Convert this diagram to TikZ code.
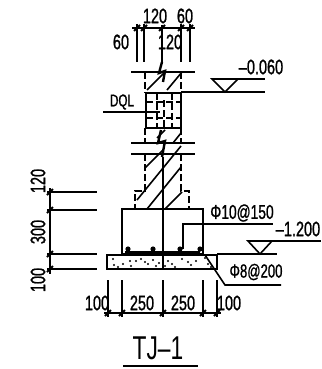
\documentclass[tikz,border=0pt]{standalone}
\usepackage{fontspec}
\newfontfamily\cadfont[FakeStretch=.69,FakeBold=1]{Liberation Sans}
\newfontfamily\titlefont[FakeStretch=.69]{Liberation Sans}
\begin{document}
\begin{tikzpicture}[x=1pt,y=-1pt,line width=1.6pt,
   cadlabel/.style={font=\cadfont\fontsize{21}{21}\selectfont,inner sep=0pt},
   smalllabel/.style={font=\cadfont\fontsize{21}{21}\selectfont,inner sep=0pt},
   dashline/.style={dash pattern=on 7pt off 3pt,line width=1.9pt},
   tickmark/.style={line width=1.8pt}]
\useasboundingbox (0,0) rectangle (321,369);
% top dimensions
\draw (132,28) -- (195,28);
\foreach \x in {137,144,181,190} {
  \draw (\x,24) -- (\x,62);
  \draw[tickmark] (\x,28) +(-3,3) -- +(3,-3);
}
\draw[tickmark] (162,28) +(-3,3) -- +(3,-3);
\node[cadlabel] (dimtopa) at (155,16) {120};
\node[cadlabel] (dimtopb) at (185,16) {60};
\node[cadlabel] (dimlefta) at (121,42) {60};
\node[cadlabel] (dimleftb) at (170,42) {120};
% axis with its break marks
\draw (162,25) -- (162,62);
\draw[line width=2.4pt] (162,62) -- (159,73) -- (165,71) -- (163,82);
\draw[line width=2.4pt] (161,130) -- (158,143) -- (165,141) -- (162,157);
\draw (163,157) -- (163,269);
\draw (131,72) -- (195,72);
\draw (131,143) -- (195,143);
\draw (131,154) -- (195,154);
% beam
\draw[line width=2.4pt] (146,93) rectangle (181,128);
\foreach \x in {157,172}
  \draw[dashline] (\x,93) -- (\x,128);
\draw[dashline] (164,100) -- (164,128);
\foreach \y in {102,118}
  \draw[dashline] (146,\y) -- (181,\y);
\node[cadlabel,font=\cadfont\fontsize{17}{17}\selectfont] (beamname) at (122,102) {DQL};
\draw (103,112) -- (160,112);
% wall outline
\foreach \x in {145,181} {
  \draw[dashline] (\x,72) -- (\x,93);
  \draw[dashline] (\x,128) -- (\x,143);
}
\draw[dashline] (145,154) -- (145,191) -- (135,191) -- (135,209);
\draw[dashline] (181,154) -- (181,191) -- (189,191) -- (189,209);
% hatching
\draw (147,90) -- (165,72);
\draw (167,90) -- (182,72);
\draw (157,138) -- (165,130);
\draw (173,143) -- (181,133);
\draw (145,168) -- (163,150);
\draw (137,200) -- (181,146);
\draw (147,209) -- (181,167);
\draw (165,209) -- (182,192);
% footing
\draw (122,209) rectangle (203,254);
\draw[line width=2pt] (107,255) rectangle (217,269);
\draw (125,252) -- (200,252);
\foreach \x in {128,153,180,200}
  \fill (\x,249) circle (2.6pt);
\foreach \x/\y in {113/259, 114/265, 118/267, 130/261, 131/266, 136/261, 141/259,
    145/262, 148/264, 153/260, 156/266, 159/263, 168/261, 172/264, 175/267, 182/259,
    188/262, 191/265, 196/261, 205/258, 208/264, 211/267, 123/264, 165/266}
  \fill (\x,\y) circle (1.2pt);
% rebar leaders
\draw (183,249) -- (183,224) -- (273,224);
\node[cadlabel,font=\cadfont\fontsize{20}{20}\selectfont] (rebarmain) at (242,213) {Φ10@150};
\draw (205,255) -- (225,285) -- (281,285);
\node[cadlabel,font=\cadfont\fontsize{19}{19}\selectfont] (rebardist) at (256,272) {Φ8@200};
% levels
\draw (212,79) -- (265,79);
\draw (225,92) -- (212,79) -- (238,79) -- cycle;
\draw (181,92) -- (265,92);
\node[smalllabel] (levela) at (261,67) {–0.060};
\draw (248,241) -- (321,241);
\draw (260,254) -- (248,241) -- (272,241) -- cycle;
\draw (217,254) -- (277,254);
\node[smalllabel] (levelb) at (298,229) {–1.200};
% left dimensions
\draw (50,188) -- (50,274);
\foreach \y in {192,210,254,269} {
  \draw (47,\y) -- (97,\y);
  \draw[tickmark] (50,\y) +(-3,3) -- +(3,-3);
}
\node[cadlabel,rotate=90] (dimhigha) at (38,181) {120};
\node[cadlabel,rotate=90] (dimhighb) at (38,232) {300};
\node[cadlabel,rotate=90] (dimhighc) at (38,280) {100};
% bottom dimensions
\draw (104,313) -- (221,313);
\foreach \x in {108,122,163,203,217} {
  \draw (\x,280) -- (\x,317);
  \draw[tickmark] (\x,313) +(-3,3) -- +(3,-3);
}
\node[cadlabel] (dimlowa) at (97,303) {100};
\node[cadlabel] (dimlowb) at (142,303) {250};
\node[cadlabel] (dimlowc) at (183,303) {250};
\node[cadlabel] (dimlowd) at (229,303) {100};
% title
\node[inner sep=0pt,font=\titlefont\fontsize{33}{33}\selectfont] (title) at (158,348) {TJ–1};
\draw[line width=2.4pt] (123,366) -- (198,366);
\end{tikzpicture}
\end{document}
